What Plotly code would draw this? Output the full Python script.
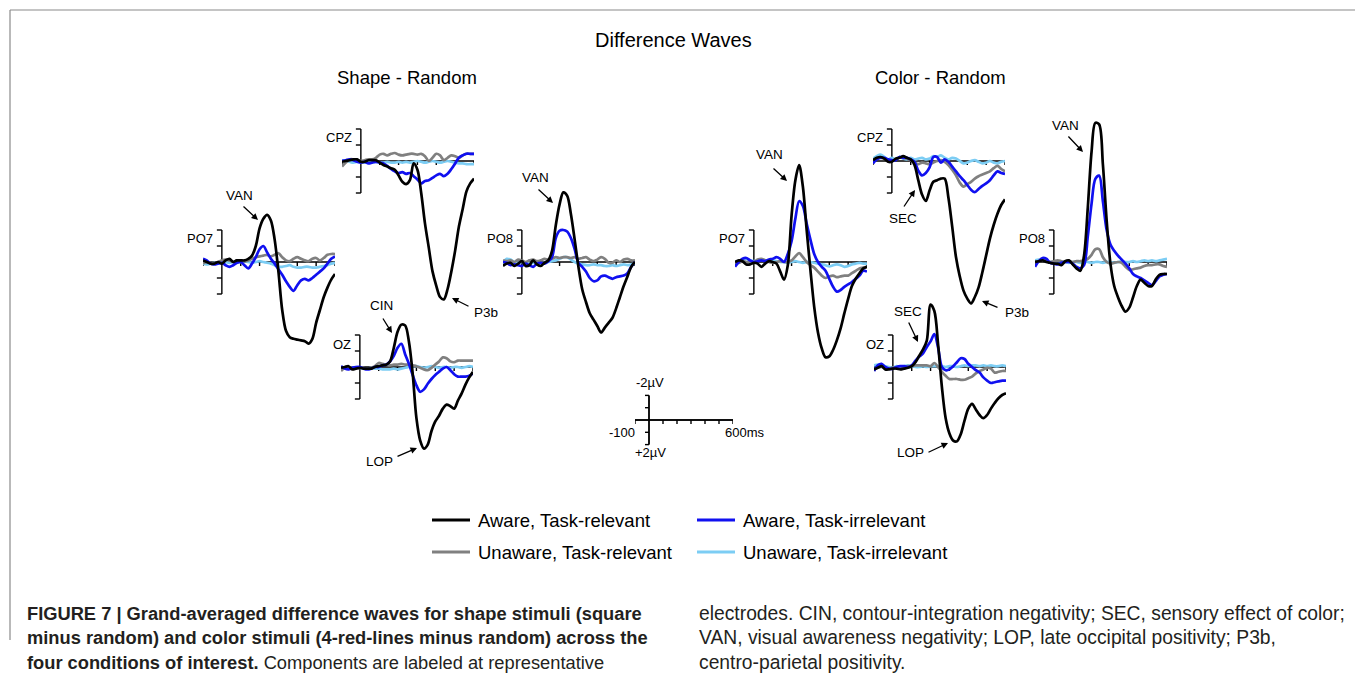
import plotly.graph_objects as go

W, H = 1355, 680

# sample times (ms), 20 ms steps from -100 to 600
t_ms = list(range(-100, 601, 20))

# ---------------- Shape - Random (µV, negative up) ----------------
shape_po7_aware_rel = [-0.1, 0.0, 0.1, 0.1, 0.0, 0.1, -0.1, -0.2, 0.0, -0.1, -0.1, -0.1, -0.2, -0.4, -1.0, -2.1, -2.7, -2.95, -2.6, -1.4, 0.6, 3.0, 4.3, 4.7, 4.8, 4.85, 4.9, 4.95, 5.1, 4.8, 3.8, 3.0, 2.2, 1.6, 1.1, 0.75]
shape_po7_aware_irr = [-0.2, -0.1, 0.1, 0.15, 0.1, 0.05, 0.2, 0.3, 0.2, 0.05, 0.0, 0.2, 0.4, 0.1, -0.3, -0.8, -1.0, -0.6, -0.2, 0.1, 0.45, 0.8, 1.2, 1.55, 1.8, 1.45, 1.15, 1.05, 1.15, 1.0, 0.8, 0.6, 0.4, 0.1, -0.2, -0.35]
shape_po7_unaware_rel = [0.1, 0.0, 0.05, 0.1, 0.0, -0.1, -0.15, -0.1, 0.0, -0.1, -0.1, -0.05, -0.1, -0.2, -0.3, -0.35, -0.4, -0.45, -0.35, -0.45, -0.55, -0.3, -0.1, -0.05, -0.2, -0.3, -0.2, -0.1, -0.05, -0.2, -0.25, -0.1, -0.25, -0.45, -0.5, -0.5]
shape_po7_unaware_irr = [0.1, 0.15, 0.1, 0.05, 0.1, 0.05, 0.0, 0.05, 0.0, 0.05, 0.0, -0.05, 0.0, 0.05, 0.0, -0.05, 0.0, 0.05, 0.1, 0.2, 0.3, 0.3, 0.25, 0.2, 0.3, 0.35, 0.35, 0.3, 0.3, 0.35, 0.35, 0.3, 0.25, 0.2, 0.1, 0.05]

shape_cpz_aware_rel = [0.05, 0.0, -0.05, -0.1, -0.1, 0.05, 0.05, -0.05, -0.05, -0.05, 0.1, 0.25, 0.35, 0.45, 0.55, 0.9, 1.3, 1.45, 1.2, 0.15, 0.55, 2.0, 3.9, 5.4, 6.9, 7.8, 8.5, 8.65, 8.0, 6.9, 5.6, 4.1, 3.0, 1.9, 1.4, 1.1]
shape_cpz_aware_irr = [0.0, -0.05, -0.1, -0.05, 0.05, 0.1, 0.05, 0.15, 0.1, 0.05, 0.1, 0.15, 0.3, 0.5, 0.65, 0.75, 0.7, 0.8, 0.75, 0.95, 1.15, 1.4, 1.25, 1.2, 1.05, 0.9, 0.8, 0.95, 0.8, 0.5, 0.15, -0.2, -0.35, -0.45, -0.45, -0.45]
shape_cpz_unaware_rel = [0.35, 0.1, -0.1, -0.1, -0.05, 0.0, -0.05, -0.1, -0.1, -0.2, -0.4, -0.45, -0.35, -0.45, -0.5, -0.4, -0.35, -0.4, -0.45, -0.45, -0.4, -0.45, -0.3, 0.0, -0.2, -0.45, -0.35, -0.05, -0.2, -0.35, -0.3, -0.2, -0.35, -0.45, -0.45, -0.45]
shape_cpz_unaware_irr = [-0.05, 0.0, 0.05, 0.1, 0.05, 0.05, 0.1, 0.05, 0.1, 0.05, 0.1, 0.1, 0.05, 0.1, 0.1, 0.05, 0.1, 0.05, 0.1, 0.05, 0.0, 0.05, 0.1, 0.05, 0.0, 0.05, 0.1, 0.05, 0.0, 0.05, 0.1, 0.15, 0.15, 0.2, 0.2, 0.2]

shape_po8_aware_rel = [0.25, 0.1, 0.05, 0.25, 0.1, -0.05, 0.25, 0.2, -0.1, 0.15, 0.25, 0.05, -0.1, -0.7, -2.3, -3.6, -4.35, -4.15, -3.0, -1.4, 0.3, 1.7, 2.5, 3.2, 3.6, 4.0, 4.4, 4.1, 3.8, 3.5, 2.9, 2.2, 1.5, 0.9, 0.3, 0.0]
shape_po8_aware_irr = [0.0, 0.05, 0.2, 0.15, 0.2, 0.25, 0.1, 0.2, 0.3, 0.1, 0.05, 0.1, -0.05, -0.3, -1.5, -1.95, -2.0, -1.9, -1.5, -0.8, 0.05, 0.3, 0.6, 1.0, 1.2, 1.15, 0.9, 0.85, 0.95, 1.05, 0.95, 0.9, 0.85, 0.7, 0.3, 0.0]
shape_po8_unaware_rel = [-0.1, -0.05, -0.1, 0.0, -0.15, -0.1, 0.0, -0.1, -0.15, -0.05, -0.1, -0.2, -0.15, -0.2, -0.3, -0.25, -0.3, -0.3, -0.25, -0.3, -0.2, -0.25, -0.3, -0.15, -0.05, -0.15, -0.3, -0.2, 0.05, 0.05, -0.1, 0.0, -0.15, -0.2, -0.1, -0.1]
shape_po8_unaware_irr = [0.1, -0.2, -0.15, 0.0, 0.05, 0.0, 0.05, 0.1, 0.05, 0.0, 0.1, 0.05, 0.0, -0.05, -0.1, -0.2, -0.3, -0.3, -0.15, 0.0, 0.1, 0.15, 0.2, 0.2, 0.15, 0.2, 0.2, 0.25, 0.25, 0.2, 0.25, 0.2, 0.15, 0.2, 0.15, 0.1]

shape_oz_aware_rel = [0.05, 0.0, -0.05, 0.15, 0.1, 0.05, 0.1, 0.1, 0.1, 0.0, -0.05, -0.1, -0.15, -0.35, -1.2, -2.2, -2.65, -2.6, -1.6, 0.4, 3.2, 4.6, 5.1, 4.85, 4.0, 3.4, 3.05, 2.6, 2.35, 2.45, 2.6, 2.1, 1.65, 1.1, 0.65, 0.3]
shape_oz_aware_irr = [-0.05, 0.1, 0.15, 0.05, 0.0, 0.0, 0.1, 0.15, 0.1, 0.0, 0.0, -0.1, -0.15, -0.35, -0.7, -1.2, -1.45, -0.8, -0.2, 0.5, 1.15, 1.55, 1.4, 1.05, 0.75, 0.5, 0.3, 0.1, 0.0, 0.2, 0.45, 0.6, 0.6, 0.6, 0.55, 0.4]
shape_oz_unaware_rel = [0.25, 0.05, 0.0, 0.05, 0.1, 0.05, 0.05, 0.1, 0.05, -0.05, -0.25, -0.2, -0.15, -0.1, -0.15, -0.15, -0.2, -0.15, -0.15, -0.1, -0.05, 0.05, 0.15, 0.2, 0.05, -0.15, -0.35, -0.6, -0.55, -0.35, -0.3, -0.4, -0.4, -0.4, -0.4, -0.4]
shape_oz_unaware_irr = [0.0, 0.05, 0.1, 0.05, 0.0, 0.05, 0.1, 0.1, 0.05, 0.1, 0.1, 0.15, 0.15, 0.15, 0.1, 0.15, 0.1, 0.05, 0.0, -0.05, -0.05, 0.0, 0.05, 0.0, -0.05, 0.0, 0.05, 0.0, 0.0, 0.05, 0.0, 0.0, 0.05, 0.0, -0.05, 0.0]

# ---------------- Color - Random (µV, negative up) ----------------
color_po7_aware_rel = [0.0, -0.1, -0.05, 0.15, 0.15, 0.05, 0.1, 0.3, 0.1, -0.05, 0.0, 0.1, 0.6, 1.1, 0.2, -2.9, -5.1, -6.05, -4.7, -2.0, 0.5, 2.8, 4.4, 5.4, 5.95, 5.9, 5.5, 4.9, 4.15, 3.2, 2.3, 1.5, 1.05, 0.7, 0.4, 0.3]
color_po7_aware_irr = [0.3, 0.0, -0.2, -0.25, -0.1, 0.0, -0.05, -0.1, -0.05, -0.15, -0.2, -0.3, -0.2, 0.0, -0.5, -1.3, -2.7, -3.8, -3.5, -2.4, -1.4, -0.5, 0.0, 0.3, 0.55, 1.05, 1.55, 1.85, 1.75, 1.55, 1.4, 1.25, 1.05, 0.85, 0.55, 0.6]
color_po7_unaware_rel = [0.0, 0.05, -0.05, 0.0, 0.0, 0.0, -0.15, -0.2, -0.1, 0.0, 0.05, 0.0, -0.05, 0.0, 0.0, -0.1, -0.35, -0.55, -0.3, 0.0, 0.2, 0.35, 0.6, 0.85, 1.0, 0.9, 0.85, 0.95, 0.9, 0.85, 0.85, 0.7, 0.55, 0.4, 0.35, 0.3]
color_po7_unaware_irr = [0.0, -0.05, -0.15, -0.2, -0.1, -0.05, -0.1, -0.15, -0.1, -0.05, -0.1, -0.05, 0.0, 0.0, 0.05, 0.0, -0.05, 0.0, 0.05, 0.0, 0.0, 0.05, 0.1, 0.15, 0.2, 0.27, 0.2, 0.15, 0.2, 0.3, 0.25, 0.15, 0.1, 0.05, 0.1, 0.1]

color_cpz_aware_rel = [-0.05, -0.2, -0.25, -0.15, 0.05, 0.05, -0.15, -0.2, -0.3, -0.2, -0.1, 0.25, 1.2, 2.1, 2.5, 1.85, 1.3, 1.2, 1.1, 1.1, 2.3, 4.1, 6.0, 7.2, 8.1, 8.6, 8.9, 8.5, 7.9, 6.95, 5.9, 4.85, 4.0, 3.3, 2.75, 2.4]
color_cpz_aware_irr = [0.15, -0.1, -0.2, -0.2, -0.1, -0.05, -0.05, -0.25, -0.2, -0.2, -0.1, 0.05, 0.6, 0.9, 0.75, 0.4, -0.25, -0.25, 0.1, -0.1, 0.05, 0.35, 0.65, 0.95, 1.2, 1.5, 1.8, 1.95, 1.75, 1.55, 1.4, 1.2, 0.9, 0.65, 0.75, 0.8]
color_cpz_unaware_rel = [0.1, -0.15, -0.2, -0.15, 0.0, 0.0, -0.1, -0.2, -0.2, -0.15, -0.05, 0.1, 0.2, 0.1, 0.15, 0.2, 0.1, 0.0, -0.05, 0.05, 0.25, 0.55, 0.9, 1.35, 1.6, 1.45, 1.3, 1.1, 0.95, 0.85, 0.75, 0.65, 0.45, 0.3, 0.5, 0.65]
color_cpz_unaware_irr = [-0.15, -0.3, -0.4, -0.25, -0.1, -0.2, -0.1, -0.25, -0.15, -0.1, -0.2, -0.1, -0.15, -0.2, -0.1, -0.15, -0.3, -0.25, -0.35, -0.2, -0.1, -0.2, -0.15, 0.0, 0.15, 0.1, 0.0, -0.05, 0.05, 0.15, 0.1, 0.0, 0.1, 0.15, 0.05, 0.0]

color_po8_aware_rel = [0.0, -0.05, -0.1, 0.0, 0.05, 0.1, 0.1, 0.2, -0.05, -0.1, 0.15, 0.4, 0.55, -0.4, -3.4, -6.9, -8.7, -8.6, -6.1, -2.6, 0.1, 1.5, 2.2, 2.75, 3.1, 2.85, 2.2, 1.5, 1.1, 1.3, 1.5, 1.5, 1.1, 0.8, 0.75, 0.75]
color_po8_aware_irr = [0.3, -0.05, -0.25, -0.2, 0.05, 0.1, 0.15, 0.05, 0.0, 0.0, 0.1, 0.3, 0.4, 0.2, -1.6, -3.65, -5.2, -5.4, -3.8, -2.0, -1.1, -0.7, -0.4, -0.15, 0.1, 0.4, 0.75, 0.9, 1.0, 1.15, 1.3, 1.45, 1.2, 0.9, 0.8, 0.75]
color_po8_unaware_rel = [0.0, -0.05, -0.1, -0.05, 0.0, -0.05, -0.1, -0.05, 0.0, -0.05, 0.0, -0.05, -0.05, -0.1, -0.2, -0.45, -0.8, -0.8, -0.3, 0.0, 0.1, 0.05, 0.0, 0.05, 0.3, 0.5, 0.45, 0.4, 0.35, 0.25, 0.2, 0.2, 0.15, 0.15, 0.25, 0.3]
color_po8_unaware_irr = [-0.1, -0.15, -0.1, -0.05, 0.0, 0.0, 0.05, 0.0, 0.0, 0.05, 0.0, 0.0, 0.05, 0.0, 0.0, 0.05, 0.0, 0.0, 0.05, 0.0, 0.0, 0.05, 0.0, -0.05, 0.0, 0.0, -0.05, 0.0, -0.05, -0.1, -0.05, -0.1, -0.05, -0.1, -0.15, -0.2]

color_oz_aware_rel = [0.15, 0.05, -0.05, 0.15, 0.15, 0.1, 0.1, 0.15, 0.1, 0.05, -0.05, -0.3, -0.7, -1.1, -1.65, -3.9, -3.5, -1.4, 1.25, 3.2, 4.15, 4.6, 4.65, 4.2, 3.35, 2.6, 2.3, 2.65, 3.0, 3.2, 3.0, 2.6, 2.25, 1.95, 1.75, 1.65]
color_oz_aware_irr = [0.25, -0.1, -0.2, 0.0, 0.1, 0.1, 0.0, -0.05, -0.05, 0.0, -0.1, -0.4, -0.65, -0.85, -1.25, -1.6, -2.05, -1.2, 0.0, 0.2, 0.15, -0.05, -0.3, -0.55, -0.5, -0.2, 0.0, 0.2, 0.35, 0.65, 0.85, 1.0, 0.95, 0.9, 0.85, 0.85]
color_oz_unaware_rel = [0.15, 0.05, 0.0, 0.05, 0.1, 0.05, 0.0, 0.05, 0.0, -0.05, -0.05, -0.1, -0.1, -0.1, -0.1, -0.05, -0.25, 0.0, 0.3, 0.55, 0.75, 0.75, 0.75, 0.8, 0.8, 0.7, 0.6, 0.4, 0.25, 0.15, 0.05, 0.1, 0.35, 0.3, 0.25, 0.25]
color_oz_unaware_irr = [-0.1, -0.15, -0.15, -0.05, 0.0, 0.05, -0.05, 0.0, -0.05, -0.1, -0.05, 0.0, 0.0, -0.05, 0.0, -0.05, -0.05, -0.05, -0.05, 0.0, -0.05, -0.05, 0.0, -0.05, -0.1, -0.05, -0.1, -0.1, -0.05, -0.1, -0.05, -0.1, -0.05, -0.05, -0.1, -0.05]

conditions = ["Aware, Task-relevant", "Aware, Task-irrelevant",
              "Unaware, Task-relevant", "Unaware, Task-irrelevant"]
line_colors = ["#000000", "#1010f0", "#808080", "#7ccdf4"]
draw_order = [3, 2, 1, 0]          # light blue first, black on top

# scale-bar axis extents
scale_t = [-100, 600]
scale_uv = [-2, 2]

# ---------------- geometry (pixels) ----------------
FONT = "Liberation Sans, Arial, Helvetica, sans-serif"
PANEL_W = 132                       # px for -100..600 ms
PX_PER_MS = PANEL_W / 700.0
PX_PER_UV = 16.0
HALF_UV = 10.0                      # each panel's y window: +/-10 µV

panels = [
    ("PO7", 203, 262, [shape_po7_aware_rel, shape_po7_aware_irr, shape_po7_unaware_rel, shape_po7_unaware_irr]),
    ("CPZ", 342, 161, [shape_cpz_aware_rel, shape_cpz_aware_irr, shape_cpz_unaware_rel, shape_cpz_unaware_irr]),
    ("PO8", 503, 262, [shape_po8_aware_rel, shape_po8_aware_irr, shape_po8_unaware_rel, shape_po8_unaware_irr]),
    ("OZ", 341, 367, [shape_oz_aware_rel, shape_oz_aware_irr, shape_oz_unaware_rel, shape_oz_unaware_irr]),
    ("PO7", 735, 262, [color_po7_aware_rel, color_po7_aware_irr, color_po7_unaware_rel, color_po7_unaware_irr]),
    ("CPZ", 873, 161, [color_cpz_aware_rel, color_cpz_aware_irr, color_cpz_unaware_rel, color_cpz_unaware_irr]),
    ("PO8", 1035, 262, [color_po8_aware_rel, color_po8_aware_irr, color_po8_unaware_rel, color_po8_unaware_irr]),
    ("OZ", 874, 367, [color_oz_aware_rel, color_oz_aware_irr, color_oz_unaware_rel, color_oz_unaware_irr]),
]


def px(x, y):
    return x / W, 1 - y / H


fig = go.Figure()
layout = dict(width=W, height=H, margin=dict(l=0, r=0, t=0, b=0),
              paper_bgcolor="white", plot_bgcolor="rgba(0,0,0,0)",
              showlegend=False)
shapes = []
annotations = []


def axis_shapes(xr, yr, tick_len_uv, bracket_len_ms, ticks):
    ln = dict(color="black", width=1.4)
    out = [dict(type="line", xref=xr, yref=yr, x0=-100, x1=600, y0=0, y1=0, line=ln, layer="below"),
           dict(type="line", xref=xr, yref=yr, x0=0, x1=0, y0=-2, y1=2, line=ln, layer="below")]
    for tk in ticks:
        out.append(dict(type="line", xref=xr, yref=yr, x0=tk, x1=tk, y0=0, y1=tick_len_uv,
                        line=ln, layer="below"))
    for v in (-2, -1, 1, 2):
        out.append(dict(type="line", xref=xr, yref=yr, x0=-bracket_len_ms, x1=0, y0=v, y1=v,
                        line=ln, layer="below"))
    return out


x_ticks = [-100, 100, 200, 300, 400, 500, 600]

for i, (name, x0, zero, series) in enumerate(panels, start=1):
    xa, ya = f"xaxis{i}", f"yaxis{i}"
    xr, yr = f"x{i}", f"y{i}"
    top = zero - HALF_UV * PX_PER_UV
    bot = zero + HALF_UV * PX_PER_UV
    layout[xa] = dict(domain=[x0 / W, (x0 + PANEL_W) / W], range=[-100, 600],
                      visible=False, fixedrange=True, anchor=yr)
    layout[ya] = dict(domain=[1 - bot / H, 1 - top / H], range=[HALF_UV, -HALF_UV],
                      visible=False, fixedrange=True, anchor=xr)
    for k in draw_order:
        fig.add_trace(go.Scatter(x=t_ms, y=series[k], mode="lines", xaxis=xr, yaxis=yr,
                                 name=conditions[k], hoverinfo="skip",
                                 line=dict(color=line_colors[k], width=2.7,
                                           shape="spline", smoothing=0.9)))
    shapes += axis_shapes(xr, yr, 4 / PX_PER_UV, 5 / PX_PER_MS, x_ticks)
    bx = x0 + 100 * PX_PER_MS
    lx, ly = px(bx - 7, zero - 2 * PX_PER_UV + 9)
    annotations.append(dict(x=lx, y=ly, xref="paper", yref="paper", text=name,
                            showarrow=False, xanchor="right", yanchor="middle",
                            font=dict(family=FONT, size=13, color="black")))

# ---------------- scale bar ----------------
SB_X0, SB_W, SB_ZERO, SB_PX_UV = 635, 98, 420, 12.3
sb_px_ms = SB_W / 700.0
n = len(panels) + 1
layout[f"xaxis{n}"] = dict(domain=[SB_X0 / W, (SB_X0 + SB_W) / W], range=[-100, 600],
                           visible=False, fixedrange=True, anchor=f"y{n}")
layout[f"yaxis{n}"] = dict(domain=[1 - (SB_ZERO + 3 * SB_PX_UV) / H, 1 - (SB_ZERO - 3 * SB_PX_UV) / H],
                           range=[3, -3], visible=False, fixedrange=True, anchor=f"x{n}")
fig.add_trace(go.Scatter(x=scale_t, y=[0, 0], mode="lines", xaxis=f"x{n}", yaxis=f"y{n}",
                         line=dict(color="black", width=1.4), hoverinfo="skip"))
fig.add_trace(go.Scatter(x=[0, 0], y=scale_uv, mode="lines", xaxis=f"x{n}", yaxis=f"y{n}",
                         line=dict(color="black", width=1.4), hoverinfo="skip"))
for s in axis_shapes(f"x{n}", f"y{n}", 4 / SB_PX_UV, 4 / sb_px_ms, x_ticks):
    shapes.append(s)

sb_labels = [("-2µV", 650, 382, "center"), ("+2µV", 650, 452, "center"),
             ("-100", 637, 432, "right"), ("600ms", 723, 432, "left")]
for txt, x, y, anc in sb_labels:
    ax_, ay_ = px(x, y)
    annotations.append(dict(x=ax_, y=ay_, xref="paper", yref="paper", text=txt, showarrow=False,
                            xanchor=anc, yanchor="middle",
                            font=dict(family=FONT, size=13, color="black")))

# ---------------- component labels with arrows ----------------
components = [
    # text, text centre, arrow tail, arrow head
    ("VAN", (239, 195), (242, 205), (258, 220)),
    ("P3b", (486, 313), (470, 307), (452, 298)),
    ("VAN", (535, 178), (537, 188), (553, 203)),
    ("CIN", (381, 305), (382, 317), (392, 333)),
    ("LOP", (379, 461), (396, 457), (417, 448)),
    ("VAN", (769, 155), (772, 167), (787, 181)),
    ("SEC", (903, 219), (903, 208), (915, 190)),
    ("P3b", (1017, 313), (999, 308), (982, 301)),
    ("VAN", (1065, 125), (1067, 135), (1083, 152)),
    ("SEC", (908, 312), (908, 321), (918, 342)),
    ("LOP", (910, 452), (927, 453), (948, 443)),
]
for txt, (tx, ty), (ax0, ay0), (hx, hy) in components:
    x, y = px(tx, ty)
    annotations.append(dict(x=x, y=y, xref="paper", yref="paper", text=txt, showarrow=False,
                            xanchor="center", yanchor="middle",
                            font=dict(family=FONT, size=13.5, color="black")))
    x, y = px(hx, hy)
    annotations.append(dict(x=x, y=y, xref="paper", yref="paper", text="", showarrow=True,
                            ax=ax0 - hx, ay=ay0 - hy, arrowhead=2, arrowsize=1,
                            arrowwidth=1.3, arrowcolor="black", standoff=0))

# ---------------- titles ----------------
for txt, x, y, size in [("Difference Waves", 673, 40, 20),
                        ("Shape - Random", 407, 77, 18.5),
                        ("Color - Random", 940, 77, 18.5)]:
    ax_, ay_ = px(x, y)
    annotations.append(dict(x=ax_, y=ay_, xref="paper", yref="paper", text=txt, showarrow=False,
                            xanchor="center", yanchor="middle",
                            font=dict(family=FONT, size=size, color="black")))

# ---------------- legend ----------------
legend_pos = [(432, 520), (697, 520), (432, 552), (697, 552)]
for k, (lx0, ly0) in enumerate(legend_pos):
    x0p, yp = px(lx0, ly0)
    x1p, _ = px(lx0 + 38, ly0)
    shapes.append(dict(type="line", xref="paper", yref="paper", x0=x0p, x1=x1p, y0=yp, y1=yp,
                       line=dict(color=line_colors[k], width=3)))
    tx, ty = px(lx0 + 44, ly0)
    annotations.append(dict(x=tx, y=ty, xref="paper", yref="paper", text=conditions[k],
                            showarrow=False, xanchor="left", yanchor="middle",
                            font=dict(family=FONT, size=18.5, color="black")))

# ---------------- caption ----------------
left_lines = ["<b>FIGURE 7 | Grand-averaged difference waves for shape stimuli (square</b>",
              "<b>minus random) and color stimuli (4-red-lines minus random) across the</b>",
              "<b>four conditions of interest.</b> Components are labeled at representative"]
right_lines = ["electrodes. CIN, contour-integration negativity; SEC, sensory effect of color;",
               "VAN, visual awareness negativity; LOP, late occipital positivity; P3b,",
               "centro-parietal positivity."]
for j, (ltxt, rtxt) in enumerate(zip(left_lines, right_lines)):
    y = 613 + 24.5 * j
    for txt, x, size in ((ltxt, 25, 18.3), (rtxt, 697, 19.3)):
        ax_, ay_ = px(x, y)
        annotations.append(dict(x=ax_, y=ay_, xref="paper", yref="paper", text=txt,
                                showarrow=False, xanchor="left", yanchor="middle",
                                font=dict(family=FONT, size=size, color="#231f20")))

# ---------------- frame ----------------
fx0, fy0 = px(10, 10)
fx1, fy1 = px(1355, 640)
shapes.append(dict(type="line", xref="paper", yref="paper", x0=fx0, x1=1, y0=fy0, y1=fy0,
                   line=dict(color="#8a8a8a", width=1.2)))
shapes.append(dict(type="line", xref="paper", yref="paper", x0=fx0, x1=fx0, y0=fy0, y1=fy1,
                   line=dict(color="#8a8a8a", width=1.2)))

layout["shapes"] = shapes
layout["annotations"] = annotations
fig.update_layout(**layout)
fig.write_html("out.html")
